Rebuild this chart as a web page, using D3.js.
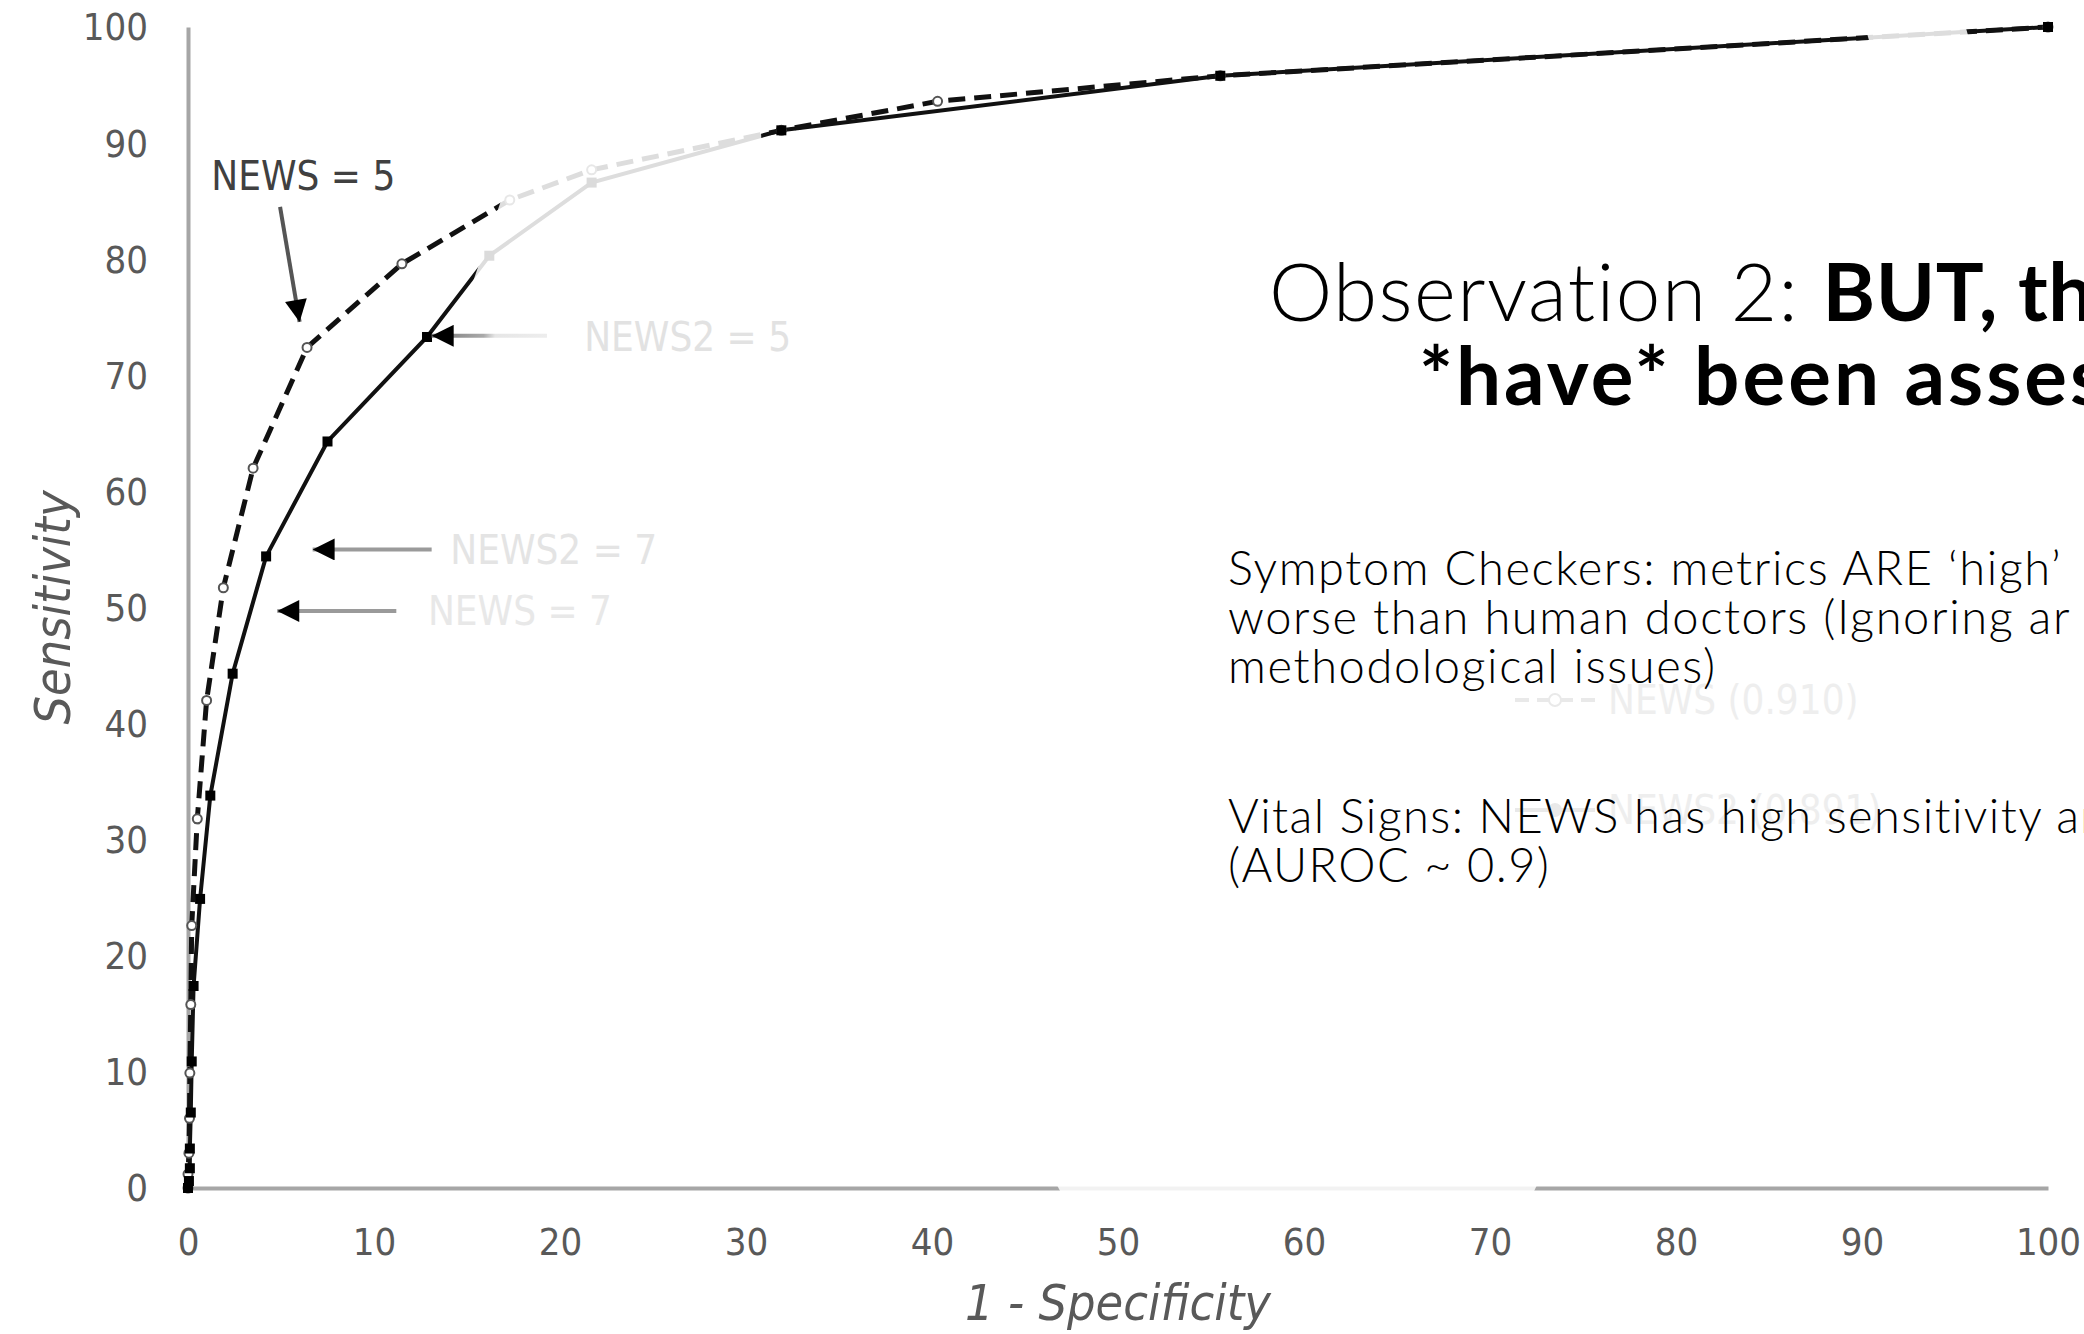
<!DOCTYPE html>
<html lang="en">
<head>
  <meta charset="UTF-8" />
  <title>NEWS vs NEWS2 ROC</title>
  <script src="https://d3js.org/d3.v7.min.js"></script>
  <style>
    html, body { margin: 0; padding: 0; background: #fff; }
    svg { display: block; }
    .tick text {
      font: 38px "Liberation Sans Narrow", "Arial Narrow", "DejaVu Sans Condensed", sans-serif;
      fill: #595959;
    }
    .axis-title {
      font: italic 50px "Liberation Sans Narrow", "Arial Narrow", "DejaVu Sans Condensed", sans-serif;
      fill: #595959;
    }
    .ann {
      font: 40px "Liberation Sans Narrow", "Arial Narrow", "DejaVu Sans Condensed", sans-serif;
    }
    .slide {
      font-family: "Century Gothic", Lato, "Open Sans", sans-serif;
      fill: #000;
    }
  </style>
</head>
<body>
  <svg width="2084" height="1334"></svg>

  <script>
    // tick labels
    const xTicks = [0, 10, 20, 30, 40, 50, 60, 70, 80, 90, 100];
    const yTicks = [0, 10, 20, 30, 40, 50, 60, 70, 80, 90, 100];

    // NEWS (dashed), 1 - specificity vs sensitivity
    const newsFpr  = [0, 0, 0.05, 0.08, 0.1, 0.15, 0.2, 0.5, 1.0, 1.9, 3.5, 6.4, 11.5, 17.3, 21.7, 31.9, 40.3, 55.5, 100];
    const newsSens = [0, 1.2, 3, 6, 9.9, 15.8, 22.6, 31.8, 42, 51.7, 62, 72.4, 79.6, 85.1, 87.7, 91.1, 93.6, 95.8, 100];

    // NEWS2 (solid)
    const news2Fpr  = [0, 0.05, 0.1, 0.1, 0.15, 0.2, 0.3, 0.65, 1.2, 2.4, 4.2, 7.5, 12.85, 16.2, 21.7, 31.9, 55.5, 100];
    const news2Sens = [0, 0.6, 1.7, 3.4, 6.5, 10.9, 17.4, 24.9, 33.8, 44.3, 54.4, 64.3, 73.3, 80.3, 86.6, 91.1, 95.8, 100];

    // threshold annotations (data units)
    const annLabels = ["NEWS = 5", "NEWS2 = 5", "NEWS2 = 7", "NEWS = 7"];
    const annTipX   = [6.0, 13.1, 6.7, 4.8];
    const annTipY   = [74.6, 73.4, 55.0, 49.7];
    const annTailX  = [4.95, 19.3, 13.1, 11.2];
    const annTailY  = [84.5, 73.4, 55.0, 49.7];
    const annTextX  = [6.2, 21.3, 14.1, 12.9];
    const annTextY  = [87.2, 73.3, 55.0, 49.7];

    const legendLabels = ["NEWS (0.910)", "NEWS2 (0.891)"];

    const titleLight = "Observation 2: ";
    const titleBold1 = "BUT, they";
    const titleBold2 = "*have* been assessed";
    const bodyLines1 = ["Symptom Checkers: metrics ARE \u2018high\u2019", "worse than human doctors (Ignoring ar", "methodological issues)"];
    const bodyLines2 = ["Vital Signs: NEWS has high sensitivity and", "(AUROC ~ 0.9)"];

    const svg = d3.select("svg");

    const x = d3.scaleLinear().domain([0, 100]).range([188, 2048]);
    const y = d3.scaleLinear().domain([0, 100]).range([1188, 27]);

    // axes
    svg.append("g")
      .attr("transform", `translate(0,${y(0)})`)
      .call(d3.axisBottom(x).tickValues(xTicks).tickSize(0).tickSizeOuter(0).tickPadding(40))
      .call(g => g.select(".domain").attr("stroke", "#a6a6a6").attr("stroke-width", 4));

    svg.append("g")
      .attr("transform", `translate(${x(0)},0)`)
      .call(d3.axisLeft(y).tickValues(yTicks).tickSize(0).tickSizeOuter(0).tickPadding(40))
      .call(g => g.select(".domain").attr("stroke", "#a6a6a6").attr("stroke-width", 4))
      .call(g => g.selectAll(".tick text").attr("dy", "0.34em"));

    svg.append("text")
      .attr("class", "axis-title")
      .attr("x", x(50))
      .attr("y", 1320)
      .attr("text-anchor", "middle")
      .text("1 - Specificity");

    svg.append("text")
      .attr("class", "axis-title")
      .attr("transform", `translate(70,${y(50)}) rotate(-90)`)
      .attr("text-anchor", "middle")
      .text("Sensitivity");

    const news = newsFpr.map((v, i) => ({ fpr: v, sens: newsSens[i] }));
    const news2 = news2Fpr.map((v, i) => ({ fpr: v, sens: news2Sens[i] }));

    const line = d3.line()
      .x(d => x(d.fpr))
      .y(d => y(d.sens));

    svg.append("path")
      .datum(news2)
      .attr("fill", "none")
      .attr("stroke", "#111")
      .attr("stroke-width", 4)
      .attr("d", line);

    svg.append("path")
      .datum(news)
      .attr("fill", "none")
      .attr("stroke", "#111")
      .attr("stroke-width", 5)
      .attr("stroke-dasharray", "17 9")
      .attr("d", line);

    svg.append("g")
      .selectAll("circle")
      .data(news)
      .join("circle")
      .attr("cx", d => x(d.fpr))
      .attr("cy", d => y(d.sens))
      .attr("r", 4.5)
      .attr("fill", "#fff")
      .attr("stroke", "#555")
      .attr("stroke-width", 2);

    svg.append("g")
      .selectAll("rect")
      .data(news2)
      .join("rect")
      .attr("x", d => x(d.fpr) - 5)
      .attr("y", d => y(d.sens) - 5)
      .attr("width", 10)
      .attr("height", 10)
      .attr("fill", "#000");

    // washed-out patches of the pasted picture
    const fades = [
      [[15.2, 77.5], [17.9, 90], [30.6, 96], [30.9, 88.5]],
      [[90.7, 97], [90.0, 101], [95.4, 101], [96.1, 97]],
      [[47.3, -1.5], [46.3, 1.5], [72.9, 1.5], [72.0, -1.5]]
    ];
    svg.append("g")
      .selectAll("path")
      .data(fades)
      .join("path")
      .attr("d", d => "M" + d.map(p => [x(p[0]), y(p[1])].join(",")).join("L") + "Z")
      .attr("fill", "#fff")
      .attr("fill-opacity", 0.86);

    // annotations
    const defs = svg.append("defs");
    defs.append("marker")
      .attr("id", "head")
      .attr("viewBox", "0 0 10 10")
      .attr("refX", 10)
      .attr("refY", 5)
      .attr("markerUnits", "userSpaceOnUse")
      .attr("markerWidth", 32)
      .attr("markerHeight", 22)
      .attr("orient", "auto")
      .append("path")
      .attr("d", "M0,0L10,5L0,10Z")
      .attr("fill", "#000");

    const grad = defs.append("linearGradient")
      .attr("id", "fadeShaft")
      .attr("gradientUnits", "userSpaceOnUse")
      .attr("x1", x(annTipX[1])).attr("x2", x(annTailX[1]))
      .attr("y1", 0).attr("y2", 0);
    grad.append("stop").attr("offset", "0%").attr("stop-color", "#777");
    grad.append("stop").attr("offset", "45%").attr("stop-color", "#aaa");
    grad.append("stop").attr("offset", "55%").attr("stop-color", "#e6e6e6");
    grad.append("stop").attr("offset", "100%").attr("stop-color", "#ededed");

    const shaftColor = ["#555", "url(#fadeShaft)", "#9a9a9a", "#9a9a9a"];
    const textColor = ["#404040", "#e2e2e2", "#e4e4e4", "#e8e8e8"];

    const ann = svg.append("g");
    annLabels.forEach((lab, i) => {
      ann.append("line")
        .attr("x1", x(annTailX[i]))
        .attr("y1", y(annTailY[i]))
        .attr("x2", x(annTipX[i]))
        .attr("y2", y(annTipY[i]) + (i === 1 ? 0.01 : 0))
        .attr("stroke", shaftColor[i])
        .attr("stroke-width", 4)
        .attr("marker-end", "url(#head)");
      ann.append("text")
        .attr("class", "ann")
        .attr("x", x(annTextX[i]))
        .attr("y", y(annTextY[i]))
        .attr("dy", "0.36em")
        .attr("text-anchor", i === 0 ? "middle" : "start")
        .attr("fill", textColor[i])
        .text(lab);
    });

    // faint legend
    const leg = svg.append("g").attr("fill", "#eeeeee");
    legendLabels.forEach((lab, i) => {
      const ly = 700 + i * 110;
      leg.append("line")
        .attr("x1", 1515).attr("x2", 1595)
        .attr("y1", ly).attr("y2", ly)
        .attr("stroke", "#e9e9e9")
        .attr("stroke-width", 4)
        .attr("stroke-dasharray", i === 0 ? "14 8" : null);
      leg.append("circle")
        .attr("cx", 1555).attr("cy", ly).attr("r", 6)
        .attr("fill", i === 0 ? "#fff" : "#e9e9e9")
        .attr("stroke", "#e9e9e9").attr("stroke-width", 2);
      leg.append("text")
        .attr("class", "ann")
        .attr("x", 1608)
        .attr("y", ly)
        .attr("dy", "0.36em")
        .attr("font-weight", "bold")
        .text(lab);
    });

    // slide text
    const t1 = svg.append("text").attr("class", "slide").attr("x", 1269).attr("y", 321).attr("font-size", 80);
    t1.append("tspan").attr("font-weight", 300).attr("letter-spacing", 1.5).text(titleLight);
    t1.append("tspan").attr("font-weight", 700).attr("letter-spacing", 0.5).text(titleBold1);
    svg.append("text").attr("class", "slide")
      .attr("x", 1419).attr("y", 405)
      .attr("font-size", 80).attr("font-weight", 700)
      .attr("letter-spacing", 3)
      .text(titleBold2);

    bodyLines1.forEach((s, i) => {
      svg.append("text").attr("class", "slide")
        .attr("x", 1228).attr("y", 585 + i * 49)
        .attr("font-size", 47).attr("font-weight", 300)
        .attr("letter-spacing", 1.6)
        .text(s);
    });
    bodyLines2.forEach((s, i) => {
      svg.append("text").attr("class", "slide")
        .attr("x", 1228).attr("y", 833 + i * 49)
        .attr("font-size", 47).attr("font-weight", 300)
        .attr("letter-spacing", 1.4)
        .text(s);
    });
  </script>
</body>
</html>
